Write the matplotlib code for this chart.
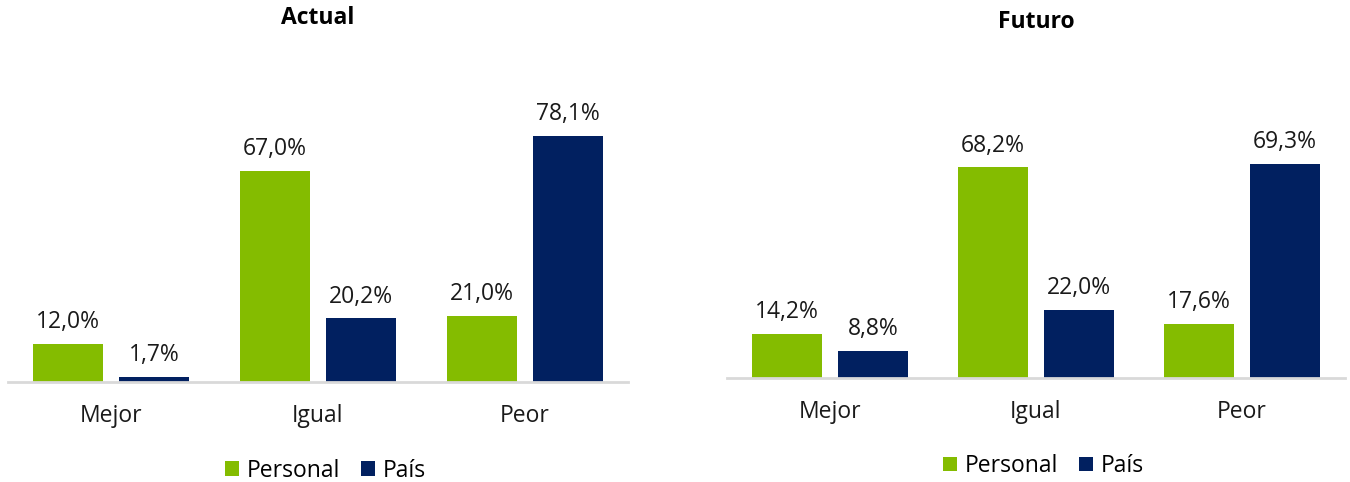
import numpy as np
import matplotlib
matplotlib.use("Agg")
import matplotlib.pyplot as plt

plt.rcParams['font.family'] = ['Open Sans', 'DejaVu Sans']

categories = ['Mejor', 'Igual', 'Peor']
series_names = ['Personal', 'País']
actual_personal = [12.0, 67.0, 21.0]
actual_pais = [1.7, 20.2, 78.1]
futuro_personal = [14.2, 68.2, 17.6]
futuro_pais = [8.8, 22.0, 69.3]

green = '#84BC00'
navy = '#012060'
fs = 16.5

fig = plt.figure(figsize=(13.5, 4.82), dpi=100)

# axes rectangles in figure fractions (left, bottom, width, height)
ax1 = fig.add_axes([8 / 1350, 100 / 482, 620 / 1350, 315 / 482])
ax2 = fig.add_axes([727 / 1350, 104 / 482, 618 / 1350, 309 / 482])


def draw_panel(ax, personal, pais, title, title_y, legend_y):
    x = np.arange(len(categories))
    w = 0.339
    off = 0.208
    b1 = ax.bar(x - off, personal, w, color=green, label=series_names[0])
    b2 = ax.bar(x + off, pais, w, color=navy, label=series_names[1])
    for bars, vals in ((b1, personal), (b2, pais)):
        for rect, v in zip(bars, vals):
            ax.annotate(f"{v:.1f}%".replace('.', ','),
                        (rect.get_x() + rect.get_width() / 2, rect.get_height()),
                        xytext=(0, 7), textcoords='offset points',
                        ha='center', va='bottom', fontsize=fs, color='#1a1a1a')
    ax.set_xlim(-0.5, len(categories) - 0.5)
    ax.set_ylim(0, 100)
    ax.set_xticks(x)
    ax.set_xticklabels(categories, fontsize=fs, color='#1a1a1a')
    ax.tick_params(axis='x', length=0, pad=16)
    ax.set_yticks([])
    for s in ('top', 'right', 'left'):
        ax.spines[s].set_visible(False)
    ax.spines['bottom'].set_color('#d9d9d9')
    ax.spines['bottom'].set_linewidth(2)
    bb = ax.get_position()
    fig.text(bb.x0 + bb.width / 2, title_y, title, fontsize=fs,
             fontweight='bold', color='black', ha='center', va='center')
    ax.legend(loc='center', bbox_to_anchor=(0.512, legend_y), ncol=2,
              frameon=False, fontsize=fs, handlelength=0.6,
              handleheight=0.6, handletextpad=0.35, columnspacing=0.9)


draw_panel(ax1, actual_personal, actual_pais, 'Actual', 1 - 18 / 482, -0.281)
draw_panel(ax2, futuro_personal, futuro_pais, 'Futuro', 1 - 22 / 482, -0.285)

fig.savefig('out.png', dpi=100)
